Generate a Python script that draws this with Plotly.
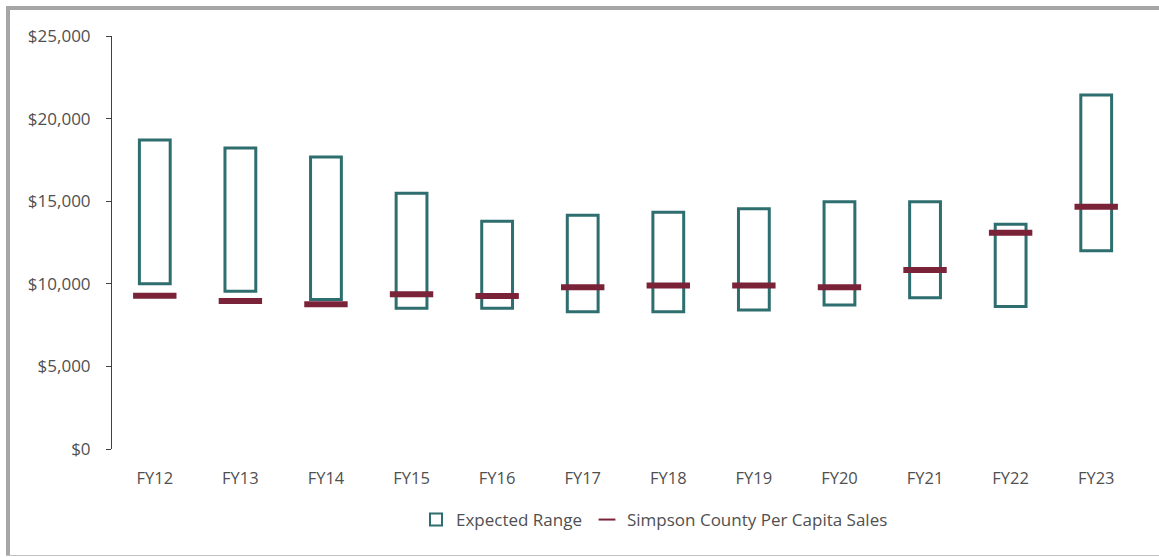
import plotly.graph_objects as go

categories = ["FY12", "FY13", "FY14", "FY15", "FY16", "FY17", "FY18", "FY19", "FY20", "FY21", "FY22", "FY23"]
range_low = [10000, 9550, 9050, 8520, 8520, 8310, 8310, 8410, 8720, 9160, 8620, 12000]
range_high = [18700, 18220, 17680, 15480, 13780, 14150, 14330, 14550, 14970, 14970, 13600, 21430]
county_sales = [9280, 8960, 8760, 9360, 9260, 9790, 9890, 9890, 9790, 10840, 13090, 14670]
y_ticks = [0, 5000, 10000, 15000, 20000, 25000]
y_tick_labels = ["$0", "$5,000", "$10,000", "$15,000", "$20,000", "$25,000"]

TEAL = "#2F6E6E"
MAROON = "#7A2238"
TXT = "#505050"
FONT = "Open Sans"

fig = go.Figure()
fig.add_trace(go.Bar(
    x=categories,
    base=range_low,
    y=[h - l for h, l in zip(range_high, range_low)],
    name="Expected Range",
    marker=dict(color="rgba(255,255,255,0)", line=dict(color=TEAL, width=3)),
    width=0.36,
    hoverinfo="skip",
))
fig.add_trace(go.Scatter(
    x=categories,
    y=county_sales,
    mode="markers",
    name="Simpson County Per Capita Sales",
    marker=dict(symbol="line-ew", size=31, color=MAROON, line=dict(color=MAROON, width=6)),
))

# frame around the picture
W, L = 1027.0, 112.0
H, B = 413.0, 449.0
def px(x): return (x - L) / W
def py(y): return (B - y) / H
frame = "#A6A6A6"
shapes = [
    dict(type="rect", xref="paper", yref="paper", x0=px(6), x1=px(10), y0=py(6), y1=py(556), fillcolor=frame, line=dict(width=0), layer="below"),
    dict(type="rect", xref="paper", yref="paper", x0=px(6), x1=px(1165), y0=py(6), y1=py(10), fillcolor=frame, line=dict(width=0), layer="below"),
    dict(type="line", xref="paper", yref="paper", x0=px(6), x1=px(1165), y0=py(555.5), y1=py(555.5), line=dict(color="#C0C0C0", width=1), layer="below"),
]

fig.update_layout(
    width=1159, height=557,
    margin=dict(l=112, r=20, t=36, b=108),
    paper_bgcolor="white", plot_bgcolor="white",
    font=dict(family=FONT, size=17, color=TXT),
    showlegend=True,
    legend=dict(orientation="h", x=px(416), xanchor="left", y=py(520), yanchor="middle",
                font=dict(family=FONT, size=17, color=TXT), itemwidth=30, itemsizing="constant",
                tracegroupgap=0),
    shapes=shapes,
)
fig.update_xaxes(
    range=[-0.5, 11.5],
    showgrid=False, showline=False, zeroline=False,
    ticks="outside", ticklen=14, tickcolor="rgba(0,0,0,0)",
    tickfont=dict(family=FONT, size=16.5, color=TXT),
)
fig.update_yaxes(
    range=[0, 25000], tickvals=y_ticks, ticktext=y_tick_labels,
    showgrid=False, zeroline=False, showline=True, linecolor="#404040", linewidth=1,
    ticks="outside", ticklen=5, tickcolor="#404040", ticklabelstandoff=12,
    tickfont=dict(family=FONT, size=17, color=TXT),
)

fig.write_html("out.html", config={"displayModeBar": False},
               post_script="document.body.style.margin='0';")
